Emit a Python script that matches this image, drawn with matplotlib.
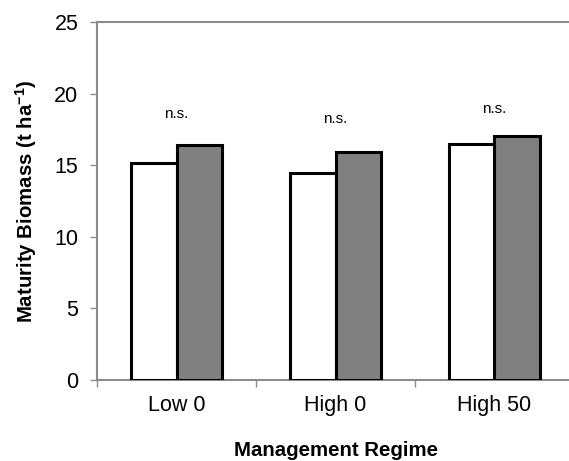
import numpy
from matplotlib import pyplot

# Data

regimes = ["Low 0", "High 0", "High 50"]
biomassWhite = [15.15, 14.45, 16.45]
biomassGrey = [16.4, 15.9, 17.05]
significance = ["n.s.", "n.s.", "n.s."]
significanceY = [18.3, 17.95, 18.65]

# Style

pyplot.rcParams['font.family'] = ['Liberation Sans', 'DejaVu Sans']
spineColor = "#8c8c8c"

fig = pyplot.figure(figsize = (5.69, 4.61), dpi = 100)
ax = fig.add_axes([97 / 569, 1 - 380 / 461, 477 / 569, 358 / 461])

x = numpy.arange(len(regimes))
barWidth = 0.286

ax.bar(x - barWidth / 2, biomassWhite, barWidth, color = "white", edgecolor = "black", linewidth = 2.2, zorder = 3)
ax.bar(x + barWidth / 2, biomassGrey, barWidth, color = "#808080", edgecolor = "black", linewidth = 2.2, zorder = 3)

for i in range(len(regimes)):
    ax.text(x[i], significanceY[i], significance[i], ha = "center", va = "baseline", fontsize = 11)

# Axes

ax.set_xlim(-0.5, len(regimes) - 0.5)
ax.set_ylim(0, 25)
ax.set_yticks(range(0, 26, 5))
ax.set_xticks(x)
ax.set_xticklabels(regimes)
ax.set_xticks(numpy.arange(-0.5, len(regimes), 1.0), minor = True)

ax.tick_params(axis = "y", direction = "out", length = 5, width = 1, color = spineColor, labelsize = 15.5, pad = 8.5)
ax.tick_params(axis = "x", which = "major", length = 0, labelsize = 15.5, pad = 11)
ax.tick_params(axis = "x", which = "minor", direction = "out", length = 5, width = 1, color = spineColor)

for side in ["left", "bottom", "top"]:
    ax.spines[side].set_color(spineColor)
    ax.spines[side].set_linewidth(1.5)
ax.spines["right"].set_visible(False)

ax.set_ylabel("Maturity Biomass (t ha$^{\\mathregular{-1}}$)", fontsize = 14.7, fontweight = "bold", labelpad = 11)
ax.set_xlabel("Management Regime", fontsize = 14.7, fontweight = "bold", labelpad = 17.5)

fig.savefig("out.png", dpi = 100)
